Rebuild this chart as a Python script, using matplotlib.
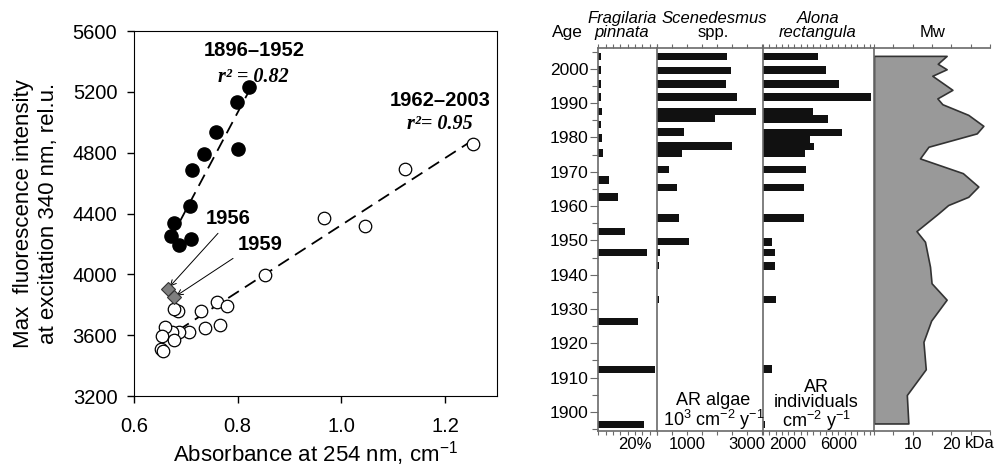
import numpy as np
import matplotlib
matplotlib.use("Agg")
import matplotlib.pyplot as plt

plt.rcParams['font.family'] = ['Liberation Sans', 'DejaVu Sans']
plt.rcParams['mathtext.fontset'] = 'custom'
plt.rcParams['mathtext.rm'] = 'Liberation Sans'
plt.rcParams['mathtext.it'] = 'Liberation Sans:italic'
plt.rcParams['mathtext.bf'] = 'Liberation Sans:bold'

# --- left panel: absorbance vs fluorescence ---
early_abs = [0.821, 0.799, 0.758, 0.735, 0.800, 0.711, 0.708, 0.678, 0.671, 0.710, 0.687]
early_fl = [5234, 5131, 4938, 4791, 4824, 4686, 4451, 4339, 4253, 4235, 4192]

late_abs = [1.254, 1.123, 0.967, 1.046, 0.852, 0.761, 0.779, 0.730, 0.685, 0.677,
            0.736, 0.766, 0.707, 0.687, 0.674, 0.659, 0.654, 0.677, 0.653, 0.656]
late_fl = [4855, 4690, 4372, 4319, 3999, 3815, 3793, 3762, 3762, 3771,
           3644, 3664, 3620, 3622, 3618, 3657, 3593, 3567, 3510, 3493]

mid_years = ['1956', '1959']
mid_abs = [0.665, 0.677]
mid_fl = [3905, 3850]

# --- right panel: stratigraphy ---
frag_years = [2003.6, 1999.7, 1995.6, 1991.8, 1987.6, 1983.7, 1979.9, 1975.5,
              1967.6, 1962.6, 1952.6, 1946.4, 1926.3, 1912.3, 1896.3]
frag_pct = [1.5, 1.5, 1.5, 1.5, 2.0, 1.6, 1.9, 2.4,
            5.8, 10.9, 14.6, 26.4, 21.8, 31.1, 25.1]

scen_years = [2003.6, 1999.6, 1995.6, 1991.8, 1987.5, 1985.5, 1981.6, 1977.5,
              1975.5, 1970.6, 1965.5, 1956.5, 1949.6, 1946.5, 1942.7, 1932.7]
scen_ar = [2333, 2467, 2311, 2667, 3310, 1944, 889, 2522,
           833, 389, 678, 722, 1056, 110, 80, 70]

alona_years = [2003.6, 1999.7, 1995.6, 1991.8, 1987.5, 1985.4, 1981.5, 1979.4, 1977.4,
               1975.4, 1970.6, 1965.5, 1956.5, 1949.5, 1946.5, 1942.5, 1932.7, 1912.5, 1896.3]
alona_ar = [4413, 5048, 6056, 8595, 4016, 5159, 6317, 3754, 4071,
            3357, 3460, 3302, 3302, 714, 976, 976, 1056, 714, 130]

mw_years = [2003.8, 2001.5, 1999.9, 1998.0, 1993.9, 1991.4, 1989.7, 1986.6, 1983.4,
            1981.2, 1977.3, 1973.9, 1969.6, 1965.7, 1962.7, 1960.3, 1957.9, 1952.7,
            1949.6, 1942.3, 1937.5, 1932.7, 1926.6, 1920.4, 1912.4, 1904.9, 1896.6]
mw_kda = [18.8, 16.5, 18.8, 15.1, 20.3, 16.4, 17.7, 24.4, 28.3,
          26.6, 14.1, 11.9, 23.0, 27.0, 24.4, 19.2, 16.7, 11.0,
          13.2, 14.5, 14.9, 18.8, 14.8, 12.8, 13.4, 8.5, 8.9]

fig = plt.figure(figsize=(9.97, 4.71), dpi=100)

# ---------------- scatter ----------------
ax = fig.add_axes([0.1344, 0.1592, 0.3641, 0.7749])
ax.plot(late_abs, late_fl, 'o', ms=9, mfc='white', mec='black', mew=0.9, zorder=3)
ax.plot(early_abs, early_fl, 'o', ms=9.5, mfc='black', mec='black', zorder=3)
ax.plot(mid_abs, mid_fl, 'D', ms=7.5, mfc='#7f7f7f', mec='#333333', mew=0.8, zorder=4)

# dashed regression lines for both periods
for xs, ys in [(early_abs, early_fl), (late_abs, late_fl)]:
    k, b = np.polyfit(xs, ys, 1)
    xx = np.array([min(xs), max(xs) + 0.006])
    ax.plot(xx, k * xx + b, color='black', lw=1.3, dashes=(7, 4), zorder=2)

ax.text(0.831, 5470, '1896\u20131952', ha='center', va='center', fontsize=14.5, fontweight='bold')
ax.text(0.831, 5300, 'r\u00b2 = 0.82', ha='center', va='center', fontsize=14.5,
        family='Liberation Serif', fontweight='bold', style='italic')
ax.text(1.19, 5146, '1962\u20132003', ha='center', va='center', fontsize=14.5, fontweight='bold')
ax.text(1.19, 4989, 'r\u00b2= 0.95', ha='center', va='center', fontsize=14.5,
        family='Liberation Serif', fontweight='bold', style='italic')

ax.text(0.781, 4368, mid_years[0], ha='center', va='center', fontsize=14.5, fontweight='bold')
ax.text(0.844, 4199, mid_years[1], ha='center', va='center', fontsize=14.5, fontweight='bold')
ax.annotate('', xy=(mid_abs[0] + 0.004, mid_fl[0] + 15), xytext=(0.762, 4270),
            arrowprops=dict(arrowstyle='->', lw=0.7, color='black', shrinkA=0, shrinkB=0))
ax.annotate('', xy=(mid_abs[1] + 0.005, mid_fl[1] + 10), xytext=(0.791, 4105),
            arrowprops=dict(arrowstyle='->', lw=0.7, color='black', shrinkA=0, shrinkB=0))

ax.set_xlim(0.6, 1.3)
ax.set_ylim(3200, 5600)
ax.set_xticks([0.6, 0.8, 1.0, 1.2])
ax.set_xticklabels(['0.6', '0.8', '1.0', '1.2'])
ax.set_yticks(np.arange(3200, 5601, 400))
ax.tick_params(direction='out', length=5, width=1, labelsize=14.5)
ax.tick_params(axis='x', pad=10)
ax.tick_params(axis='y', pad=7)
ax.set_xlabel('Absorbance at 254 nm, cm$^{-1}$', fontsize=16, labelpad=2)
ax.set_ylabel('Max  fluorescence intensity\nat excitation 340 nm, rel.u.', fontsize=16, labelpad=10)

# ---------------- stratigraphy panels ----------------
bot, hgt = 0.0849, 0.8132
ylo, yhi = 1894.4, 2006.1
bar_h = 2.15
spine_c = '#6a6a6a'

def strat_axes(left, width):
    a = fig.add_axes([left, bot, width, hgt])
    a.set_ylim(ylo, yhi)
    a.spines['right'].set_visible(False)
    for s in ['left', 'top', 'bottom']:
        a.spines[s].set_color(spine_c)
        a.spines[s].set_linewidth(1.2)
    a.tick_params(axis='x', which='both', top=True, bottom=True, direction='out',
                  length=3, width=0.8, color=spine_c, labelsize=12, pad=1)
    a.tick_params(axis='y', left=False, labelleft=False)
    return a

# Fragilaria
axf = strat_axes(0.6001, 0.0589)
axf.barh(frag_years, frag_pct, height=bar_h, color='#111111')
axf.set_xlim(0, 32)
axf.set_xticks(np.arange(0, 33, 4))
axf.set_xticklabels(['20%' if v == 20 else '' for v in range(0, 33, 4)])
axf.set_yticks(np.arange(1900, 2001, 10))
axf.set_yticks(np.arange(1895, 2006, 5), minor=True)
axf.tick_params(axis='y', which='major', left=True, labelleft=True, direction='out',
                length=6, width=0.8, color=spine_c, labelsize=12.5, pad=1)
axf.tick_params(axis='y', which='minor', left=True, direction='out',
                length=4, width=0.8, color=spine_c)

# Scenedesmus
axs = strat_axes(0.6590, 0.1063)
axs.barh(scen_years, scen_ar, height=bar_h, color='#111111')
axs.set_xlim(0, 3550)
axs.set_xticks(np.arange(0, 3501, 500))
axs.set_xticklabels(['1000' if v == 1000 else '3000' if v == 3000 else ''
                     for v in range(0, 3501, 500)])

# Alona
axa = strat_axes(0.7653, 0.1113)
axa.barh(alona_years, alona_ar, height=bar_h, color='#111111')
axa.set_xlim(0, 8833)
axa.set_xticks(np.arange(0, 8801, 500))
axa.set_xticklabels(['2000' if v == 2000 else '6000' if v == 6000 else ''
                     for v in range(0, 8801, 500)])

# Mw
axm = strat_axes(0.8766, 0.1163)
axm.fill_betweenx(mw_years, 0, mw_kda, facecolor='#999999', edgecolor='#333333', lw=1.2)
axm.set_xlim(0, 30)
axm.set_xticks(np.arange(0, 31, 5))
axm.set_xticklabels(['10' if v == 10 else '20' if v == 20 else '' for v in range(0, 31, 5)])
axm.text(23.5, -0.0143, 'kDa', transform=axm.get_xaxis_transform(), ha='left', va='top',
         fontsize=12)

# headers
def ftext(x, y, s, va='baseline', **kw):
    fig.text(x / 997, 1 - y / 471, s, ha='center', va=va, **kw)

ftext(567.5, 37.3, 'Age', fontsize=12.5)
ftext(622, 22.7, 'Fragilaria', fontsize=12, style='italic')
ftext(622, 37.3, 'pinnata', fontsize=12, style='italic')
ftext(714, 22.7, 'Scenedesmus', fontsize=12, style='italic')
ftext(713, 37.3, 'spp.', fontsize=12)
ftext(818, 23.3, 'Alona', fontsize=12, style='italic')
ftext(817.5, 37.3, 'rectangula', fontsize=12, style='italic')
ftext(932.5, 37.3, 'Mw', fontsize=12)

ftext(713.5, 432, 'AR algae\n10$^3$ cm$^{-2}$ y$^{-1}$', va='bottom', fontsize=13,
      linespacing=0.95)
ftext(816.5, 433, 'AR\nindividuals\ncm$^{-2}$ y$^{-1}$', va='bottom', fontsize=13,
      linespacing=0.88)

fig.savefig('out.png', dpi=100)
